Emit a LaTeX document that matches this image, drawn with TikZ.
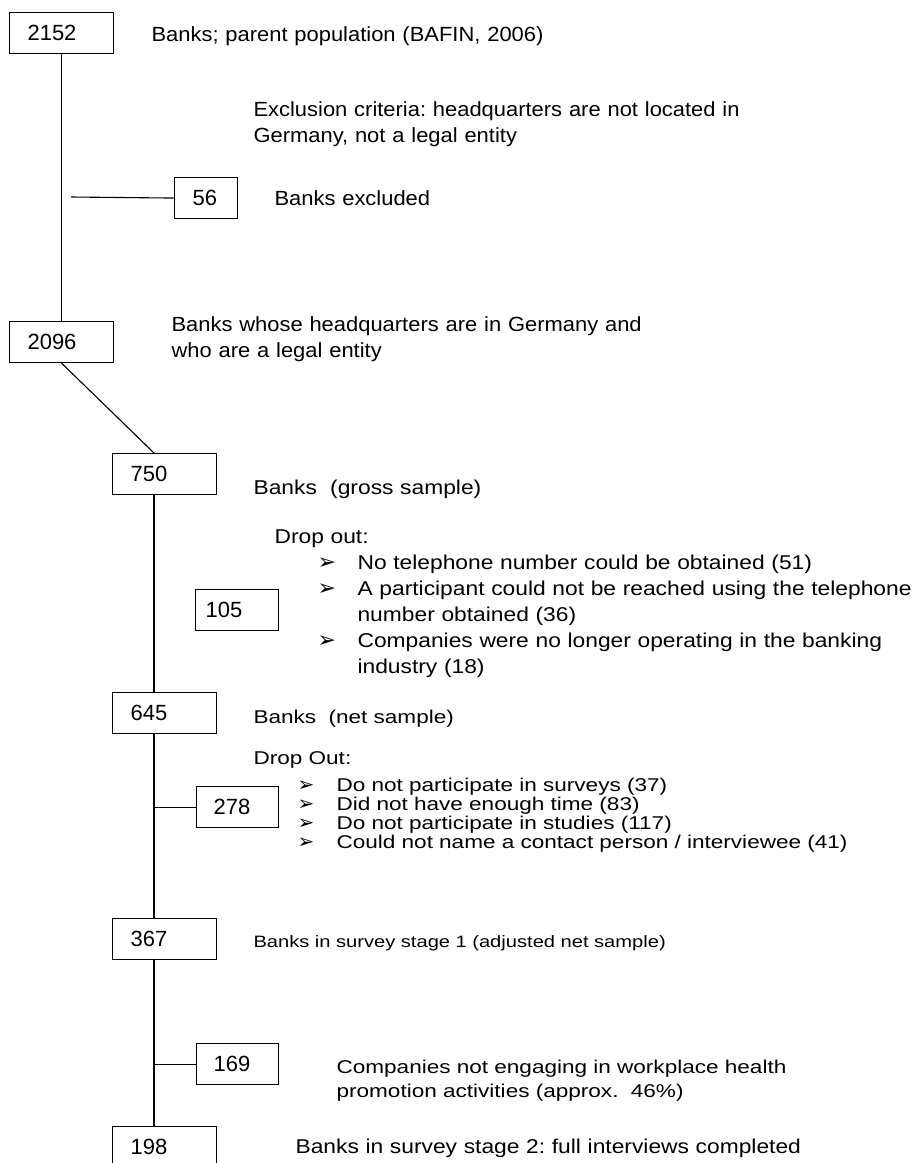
\documentclass[tikz,border=0pt]{standalone}
\usepackage{fontspec}
\setmainfont{Liberation Sans}
\newfontfamily\fontA[FakeStretch=1.07]{Liberation Sans}
\newfontfamily\fontB[FakeStretch=1.14]{Liberation Sans}
\newfontfamily\fontC[FakeStretch=1.22]{Liberation Sans}
\newfontfamily\symfont{DejaVu Sans}
\usetikzlibrary{positioning}
\frenchspacing

\tikzset{every picture/.style={line width=1.1pt}}
\tikzset{
  numbox/.style 2 args={draw, anchor=north west, text width=#1, inner xsep=#2, inner ysep=0pt,
    minimum height=41pt, align=left, font=\fontsize{22}{26}\selectfont},
  txta/.style={anchor=base west, inner sep=0pt, text width=700pt, align=left, font=\fontA\fontsize{20.5}{26.5}\selectfont},
  txtb/.style={anchor=base west, inner sep=0pt, text width=700pt, align=left, font=\fontB\fontsize{20}{26}\selectfont},
  txtc/.style={anchor=base west, inner sep=0pt, text width=700pt, align=left, font=\fontC\fontsize{18.5}{19}\selectfont},
}
\newcommand{\arrowitem}[2]{\makebox[#1][l]{\symfont\fontsize{#2}{#2}\selectfont ➢}}

\begin{document}
\begin{tikzpicture}[x=1pt,y=1pt,yscale=-1,xscale=1]
\useasboundingbox (0,0) rectangle (912,1163);

%Shape: Rectangle [id:b2152]
\node (b2152) [numbox={68pt}{18pt}] at (9,12) {2152};
%Shape: Rectangle [id:b56]
\node (b56) [numbox={27pt}{18pt}] at (174,177) {56};
%Shape: Rectangle [id:b2096]
\node (b2096) [numbox={68pt}{18pt}] at (9,321) {2096};
%Shape: Rectangle [id:b750]
\node (b750) [numbox={68pt}{18pt}] at (112,453) {750};
%Shape: Rectangle [id:b105]
\node (b105) [numbox={63pt}{10pt}] at (195,589) {105};
%Shape: Rectangle [id:b645]
\node (b645) [numbox={68pt}{18pt}] at (112,692) {645};
%Shape: Rectangle [id:b278]
\node (b278) [numbox={48pt}{17pt}] at (196,786) {278};
%Shape: Rectangle [id:b367]
\node (b367) [numbox={68pt}{18pt}] at (112,918) {367};
%Shape: Rectangle [id:b169]
\node (b169) [numbox={48pt}{17pt}] at (196,1043) {169};
%Shape: Rectangle [id:b198]
\node (b198) [numbox={68pt}{18pt}] at (112,1126) {198};

%Straight Lines
\coordinate (ex) at (71,197);
\coordinate (t1) at ([xshift=42pt]b645.south west);
\coordinate (t2) at ([xshift=42pt]b367.south west);
\draw (b2152.south) -- (b2096.north);
\draw (ex) -- (b56.west);
\draw (b2096.south) -- ([xshift=42pt]b750.north west);
\draw ([xshift=42pt]b750.south west) -- ([xshift=42pt]b645.north west);
\draw (t1) -- ([xshift=42pt]b367.north west);
\draw (b278.west) -- (b278.west -| t1);
\draw (t2) -- ([xshift=42pt]b198.north west);
\draw (b169.west) -- (b169.west -| t2);

% Text Node
\node (tparent) [txta] at (151,41) {Banks; parent population (BAFIN, 2006)};
% Text Node
\node (tcrit) [txta] at (253,116) {Exclusion criteria: headquarters are not located in\\Germany, not a legal entity};
% Text Node
\node (texcl) [txta] at (274,205) {Banks excluded};
% Text Node
\node (tgerm) [txta] at (171,331) {Banks whose headquarters are in Germany and\\who are a legal entity};
% Text Node
\node (tgross) [txtb] at (253,494) {Banks\ \ (gross sample)};
% Text Node
\node (tdrop1) [txtb] at (274,543) {Drop out:};
% Text Node
\node (tlist1) [txtb] at (317,569) {\arrowitem{40pt}{22}No telephone number could be obtained (51)\\
\arrowitem{40pt}{22}A participant could not be reached using the telephone\\
\hspace*{40pt}number obtained (36)\\
\arrowitem{40pt}{22}Companies were no longer operating in the banking\\
\hspace*{40pt}industry (18)};
% Text Node
\node (tnet) [txtc] at (253,723) {Banks\ \ (net sample)};
% Text Node
\node (tdrop2) [txtc] at (253,764) {Drop Out:};
% Text Node
\node (tlist2) [txtc] at (297,791) {\arrowitem{39pt}{20}Do not participate in surveys (37)\\
\arrowitem{39pt}{20}Did not have enough time (83)\\
\arrowitem{39pt}{20}Do not participate in studies (117)\\
\arrowitem{39pt}{20}Could not name a contact person / interviewee (41)};
% Text Node
\node (tstage1) [txtc, font=\fontC\fontsize{16.5}{19}\selectfont] at (253,947) {Banks in survey stage 1 (adjusted net sample)};
% Text Node
\node (tnoeng) [txtc, font=\fontC\fontsize{18.5}{24}\selectfont] at (336,1073) {Companies not engaging in workplace health\\promotion activities (approx.\ \ 46\%)};
% Text Node
\node (tstage2) [txtb] at (295,1153) {Banks in survey stage 2: full interviews completed};
\end{tikzpicture}
\end{document}
